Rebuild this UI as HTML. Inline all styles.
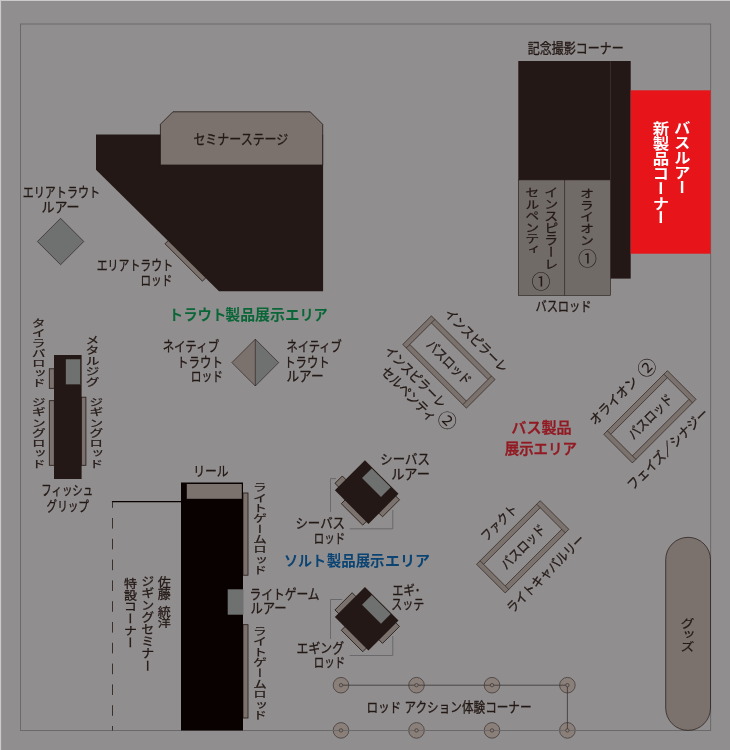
<!DOCTYPE html>
<html lang="ja"><head><meta charset="utf-8"><title>フロアマップ</title>
<style>
html,body{margin:0;padding:0;background:#908e8f;}
body{width:730px;height:750px;overflow:hidden;}
svg{display:block;font-family:"Liberation Sans","Noto Sans CJK JP",sans-serif;}
text{white-space:pre;}
svg{will-change:transform;}
text.v{writing-mode:vertical-rl;text-orientation:upright;}
</style></head><body>
<svg width="730" height="750" viewBox="0 0 730 750">
<rect x="0" y="0" width="730" height="750" fill="#908e8f"/>
<rect x="0" y="0" width="730" height="1" fill="#cbc9ca"/>
<rect x="0" y="0" width="1.1" height="750" fill="#cbc9ca"/>
<circle cx="341" cy="685.2" r="7.8" fill="#8b7f79" stroke="#3a3433" stroke-width="0.7"/>
<circle cx="416.5" cy="685.2" r="7.8" fill="#8b7f79" stroke="#3a3433" stroke-width="0.7"/>
<circle cx="492" cy="685.2" r="7.8" fill="#8b7f79" stroke="#3a3433" stroke-width="0.7"/>
<circle cx="567.4" cy="685.2" r="7.8" fill="#8b7f79" stroke="#3a3433" stroke-width="0.7"/>
<circle cx="341" cy="730.4" r="7.8" fill="#8b7f79" stroke="#3a3433" stroke-width="0.7"/>
<circle cx="416.5" cy="730.4" r="7.8" fill="#8b7f79" stroke="#3a3433" stroke-width="0.7"/>
<circle cx="492" cy="730.4" r="7.8" fill="#8b7f79" stroke="#3a3433" stroke-width="0.7"/>
<circle cx="567.4" cy="730.4" r="7.8" fill="#8b7f79" stroke="#3a3433" stroke-width="0.7"/>
<rect x="20.5" y="24" width="690.1" height="706.5" fill="none" stroke="#6b696a" stroke-width="1"/>
<polygon points="165,243.8 168.8,240 206.2,277.4 202.4,281.2" fill="#7b726d" stroke="#231815" stroke-width="0.8"/>
<polygon points="96,134.5 323.1,134.5 323.1,291.2 219,291.2 96,169.7" fill="#231815"/>
<polygon points="160.4,124.3 172.9,111.8 310.2,111.8 322.7,124.3 322.7,165 160.4,165" fill="#7b726d" stroke="#231815" stroke-width="0.8"/>
<text x="193.40" y="139.10" dy="0.36em" font-size="13.5" fill="#231815" stroke="#231815" stroke-width="0.3" font-weight="400" textLength="94.90" lengthAdjust="spacingAndGlyphs">セミナーステージ</text>
<polygon points="37.400000000000006,241.5 60.6,218.3 83.8,241.5 60.6,264.7" fill="#6f7170" stroke="#231815" stroke-width="0.6"/>
<text x="22.77" y="192.20" dy="0.36em" font-size="13.5" fill="#231815" stroke="#231815" stroke-width="0.3" font-weight="400" textLength="77.25" lengthAdjust="spacingAndGlyphs">エリアトラウト</text>
<text x="41.40" y="207.00" dy="0.36em" font-size="13.5" fill="#231815" stroke="#231815" stroke-width="0.3" font-weight="400" textLength="38.20" lengthAdjust="spacingAndGlyphs">ルアー</text>
<text x="96.69" y="265.60" dy="0.36em" font-size="13.5" fill="#231815" stroke="#231815" stroke-width="0.3" font-weight="400" textLength="76.45" lengthAdjust="spacingAndGlyphs">エリアトラウト</text>
<text x="140.57" y="280.00" dy="0.36em" font-size="13.5" fill="#231815" stroke="#231815" stroke-width="0.3" font-weight="400" textLength="31.60" lengthAdjust="spacingAndGlyphs">ロッド</text>
<polygon points="231.9,362.6 255.3,339.20000000000005 255.3,386.0" fill="#7b726d"/>
<polygon points="278.7,362.6 255.3,339.20000000000005 255.3,386.0" fill="#6f7170"/>
<polygon points="231.9,362.6 255.3,339.20000000000005 278.7,362.6 255.3,386.0" fill="none" stroke="#231815" stroke-width="0.6"/>
<line x1="255.3" y1="339.20000000000005" x2="255.3" y2="386.0" stroke="#231815" stroke-width="0.6"/>
<text y="314.50" dy="0.36em" font-size="14.7" fill="#0a6637" font-weight="700"><tspan x="168.83" textLength="57.49" lengthAdjust="spacingAndGlyphs">トラウト</tspan><tspan x="225.28" textLength="59.56" lengthAdjust="spacingAndGlyphs">製品展示</tspan><tspan x="285.26" textLength="42.50" lengthAdjust="spacingAndGlyphs">エリア</tspan></text>
<text x="162.65" y="346.20" dy="0.36em" font-size="13.5" fill="#231815" stroke="#231815" stroke-width="0.3" font-weight="400" textLength="56.46" lengthAdjust="spacingAndGlyphs">ネイティブ</text>
<text x="177.12" y="361.80" dy="0.36em" font-size="13.5" fill="#231815" stroke="#231815" stroke-width="0.3" font-weight="400" textLength="45.78" lengthAdjust="spacingAndGlyphs">トラウト</text>
<text x="190.75" y="376.30" dy="0.36em" font-size="13.5" fill="#231815" stroke="#231815" stroke-width="0.3" font-weight="400" textLength="32.09" lengthAdjust="spacingAndGlyphs">ロッド</text>
<text x="286.39" y="346.20" dy="0.36em" font-size="13.5" fill="#231815" stroke="#231815" stroke-width="0.3" font-weight="400" textLength="55.42" lengthAdjust="spacingAndGlyphs">ネイティブ</text>
<text x="284.16" y="361.80" dy="0.36em" font-size="13.5" fill="#231815" stroke="#231815" stroke-width="0.3" font-weight="400" textLength="45.56" lengthAdjust="spacingAndGlyphs">トラウト</text>
<text x="286.40" y="376.30" dy="0.36em" font-size="13.5" fill="#231815" stroke="#231815" stroke-width="0.3" font-weight="400" textLength="37.20" lengthAdjust="spacingAndGlyphs">ルアー</text>
<rect x="49.3" y="368.8" width="5" height="19.5" fill="#7b726d" stroke="#231815" stroke-width="0.8"/>
<rect x="49.3" y="400.7" width="5" height="64.6" fill="#7b726d" stroke="#231815" stroke-width="0.8"/>
<rect x="81.3" y="397.2" width="4.6" height="68.1" fill="#7b726d" stroke="#231815" stroke-width="0.8"/>
<rect x="54" y="355" width="27.6" height="124" fill="#231815"/>
<rect x="65.7" y="359" width="14.8" height="25.7" fill="#6f7170" stroke="#231815" stroke-width="0.5"/>
<text class="v" x="37.70" y="317.87" font-size="14" fill="#231815" stroke="#231815" stroke-width="0.3" font-weight="400" textLength="70.47" lengthAdjust="spacingAndGlyphs">タイラバロッド</text>
<text class="v" x="91.60" y="334.36" font-size="14" fill="#231815" stroke="#231815" stroke-width="0.3" font-weight="400" textLength="52.96" lengthAdjust="spacingAndGlyphs">メタルジグ</text>
<text class="v" x="37.70" y="397.21" font-size="14" fill="#231815" stroke="#231815" stroke-width="0.3" font-weight="400" textLength="71.61" lengthAdjust="spacingAndGlyphs">ジギングロッド</text>
<text class="v" x="95.30" y="397.21" font-size="14" fill="#231815" stroke="#231815" stroke-width="0.3" font-weight="400" textLength="71.61" lengthAdjust="spacingAndGlyphs">ジギングロッド</text>
<text x="41.37" y="490.40" dy="0.36em" font-size="13.5" fill="#231815" stroke="#231815" stroke-width="0.3" font-weight="400" textLength="51.77" lengthAdjust="spacingAndGlyphs">フィッシュ</text>
<text x="46.62" y="505.80" dy="0.36em" font-size="13.5" fill="#231815" stroke="#231815" stroke-width="0.3" font-weight="400" textLength="42.26" lengthAdjust="spacingAndGlyphs">グリップ</text>
<rect x="243" y="493" width="5" height="82.2" fill="#7b726d" stroke="#231815" stroke-width="0.8"/>
<rect x="243" y="624.7" width="5" height="93.3" fill="#7b726d" stroke="#231815" stroke-width="0.8"/>
<rect x="181" y="482.5" width="62" height="248" fill="#090000"/>
<rect x="186.8" y="484" width="55" height="14.8" fill="#7b726d"/>
<rect x="227.7" y="589.3" width="15.8" height="25.4" fill="#6f7170"/>
<line x1="181" y1="501.6" x2="111.9" y2="501.6" stroke="#090000" stroke-width="1.2"/>
<line x1="112.5" y1="501.6" x2="112.5" y2="730.5" stroke="#231815" stroke-width="0.8" stroke-dasharray="10.6 10.2" stroke-dashoffset="4.4"/>
<text x="193.28" y="471.00" dy="0.36em" font-size="13.5" fill="#231815" stroke="#231815" stroke-width="0.3" font-weight="400" textLength="35.34" lengthAdjust="spacingAndGlyphs">リール</text>
<text class="v" x="259.00" y="482.09" font-size="14" fill="#231815" stroke="#231815" stroke-width="0.3" font-weight="400" textLength="93.32" lengthAdjust="spacingAndGlyphs">ライトゲームロッド</text>
<text class="v" x="259.00" y="625.19" font-size="14" fill="#231815" stroke="#231815" stroke-width="0.3" font-weight="400" textLength="95.50" lengthAdjust="spacingAndGlyphs">ライトゲームロッド</text>
<text x="249.38" y="593.70" dy="0.36em" font-size="13.5" fill="#231815" stroke="#231815" stroke-width="0.3" font-weight="400" textLength="70.23" lengthAdjust="spacingAndGlyphs">ライトゲーム</text>
<text x="250.40" y="607.70" dy="0.36em" font-size="13.5" fill="#231815" stroke="#231815" stroke-width="0.3" font-weight="400" textLength="36.20" lengthAdjust="spacingAndGlyphs">ルアー</text>
<text class="v" x="163.30" y="575.81" font-size="13" fill="#231815" stroke="#231815" stroke-width="0.3" font-weight="400" textLength="24.39" lengthAdjust="spacingAndGlyphs">佐藤</text>
<text class="v" x="163.30" y="606.75" font-size="13" fill="#231815" stroke="#231815" stroke-width="0.3" font-weight="400" textLength="22.05" lengthAdjust="spacingAndGlyphs">統洋</text>
<text class="v" x="146.70" y="575.21" font-size="13" fill="#231815" stroke="#231815" stroke-width="0.3" font-weight="400" textLength="96.84" lengthAdjust="spacingAndGlyphs">ジギングセミナー</text>
<text class="v" x="129.50" y="577.17" font-size="13" fill="#231815" stroke="#231815" stroke-width="0.3" font-weight="400" textLength="71.40" lengthAdjust="spacingAndGlyphs">特設コーナー</text>
<g transform="translate(366.7,492.1) rotate(45)">
<rect x="-28.65" y="5.85" width="6" height="10.4" fill="#7b726d" stroke="#231815" stroke-width="0.8"/>
<rect x="-9.75" y="20.25" width="30.3" height="5.9" fill="#7b726d" stroke="#231815" stroke-width="0.8"/>
<rect x="22.75" y="-17.75" width="5.9" height="24" fill="#7b726d" stroke="#231815" stroke-width="0.8"/>
<rect x="-23.75" y="-21.25" width="47.5" height="42.5" fill="#231815"/>
<rect x="-13.2" y="-20.3" width="26.8" height="13.7" fill="#6f7170"/>
</g>
<g transform="translate(366.7,618.7) rotate(45)">
<rect x="-28.65" y="-8.05" width="6" height="24.3" fill="#7b726d" stroke="#231815" stroke-width="0.8"/>
<rect x="-9.75" y="20.25" width="30.3" height="5.9" fill="#7b726d" stroke="#231815" stroke-width="0.8"/>
<rect x="22.75" y="-17.75" width="5.9" height="24" fill="#7b726d" stroke="#231815" stroke-width="0.8"/>
<rect x="-23.75" y="-21.25" width="47.5" height="42.5" fill="#231815"/>
<rect x="-13.2" y="-20.3" width="26.8" height="13.7" fill="#6f7170"/>
</g>
<polyline points="336,478.6 330.5,478.6 330.5,512" fill="none" stroke="#676566" stroke-width="0.9"/>
<polyline points="349.7,528.8 392.8,528.8 392.8,510" fill="none" stroke="#676566" stroke-width="0.9"/>
<polyline points="342.2,599.5 330.5,599.5 330.5,639" fill="none" stroke="#676566" stroke-width="0.9"/>
<polyline points="349.7,655.5 392.8,655.5 392.8,636" fill="none" stroke="#676566" stroke-width="0.9"/>
<text x="380.36" y="459.60" dy="0.36em" font-size="13.5" fill="#231815" stroke="#231815" stroke-width="0.3" font-weight="400" textLength="49.54" lengthAdjust="spacingAndGlyphs">シーバス</text>
<text x="391.16" y="474.40" dy="0.36em" font-size="13.5" fill="#231815" stroke="#231815" stroke-width="0.3" font-weight="400" textLength="38.80" lengthAdjust="spacingAndGlyphs">ルアー</text>
<text x="295.38" y="523.20" dy="0.36em" font-size="13.5" fill="#231815" stroke="#231815" stroke-width="0.3" font-weight="400" textLength="49.65" lengthAdjust="spacingAndGlyphs">シーバス</text>
<text x="313.86" y="537.70" dy="0.36em" font-size="13.5" fill="#231815" stroke="#231815" stroke-width="0.3" font-weight="400" textLength="31.24" lengthAdjust="spacingAndGlyphs">ロッド</text>
<text y="560.70" dy="0.36em" font-size="14.7" fill="#0b4473" font-weight="700"><tspan x="284.04" textLength="42.04" lengthAdjust="spacingAndGlyphs">ソルト</tspan><tspan x="326.69" textLength="57.92" lengthAdjust="spacingAndGlyphs">製品展示</tspan><tspan x="385.14" textLength="44.92" lengthAdjust="spacingAndGlyphs">エリア</tspan></text>
<text x="392.19" y="589.70" dy="0.36em" font-size="13.5" fill="#231815" stroke="#231815" stroke-width="0.3" font-weight="400" textLength="28.15" lengthAdjust="spacingAndGlyphs">エギ･</text>
<text x="391.18" y="604.50" dy="0.36em" font-size="13.5" fill="#231815" stroke="#231815" stroke-width="0.3" font-weight="400" textLength="32.94" lengthAdjust="spacingAndGlyphs">スッテ</text>
<text x="296.58" y="647.70" dy="0.36em" font-size="13.5" fill="#231815" stroke="#231815" stroke-width="0.3" font-weight="400" textLength="47.44" lengthAdjust="spacingAndGlyphs">エギング</text>
<text x="313.86" y="662.50" dy="0.36em" font-size="13.5" fill="#231815" stroke="#231815" stroke-width="0.3" font-weight="400" textLength="31.24" lengthAdjust="spacingAndGlyphs">ロッド</text>
<polyline points="341,685.2 567.4,685.2 567.4,730.4" fill="none" stroke="#3a3433" stroke-width="0.8"/>
<circle cx="341" cy="685.2" r="1.7" fill="#8b7f79" stroke="#3a3433" stroke-width="0.7"/>
<circle cx="341" cy="730.4" r="1.7" fill="#8b7f79" stroke="#3a3433" stroke-width="0.7"/>
<circle cx="416.5" cy="685.2" r="1.7" fill="#8b7f79" stroke="#3a3433" stroke-width="0.7"/>
<circle cx="416.5" cy="730.4" r="1.7" fill="#8b7f79" stroke="#3a3433" stroke-width="0.7"/>
<circle cx="492" cy="685.2" r="1.7" fill="#8b7f79" stroke="#3a3433" stroke-width="0.7"/>
<circle cx="492" cy="730.4" r="1.7" fill="#8b7f79" stroke="#3a3433" stroke-width="0.7"/>
<circle cx="567.4" cy="685.2" r="1.7" fill="#8b7f79" stroke="#3a3433" stroke-width="0.7"/>
<circle cx="567.4" cy="730.4" r="1.7" fill="#8b7f79" stroke="#3a3433" stroke-width="0.7"/>
<text x="366.39" y="707.00" dy="0.36em" font-size="13.5" fill="#231815" stroke="#231815" stroke-width="0.3" font-weight="400" textLength="165.21" lengthAdjust="spacingAndGlyphs">ロッド アクション体験コーナー</text>
<rect x="518.3" y="61" width="92.3" height="119.5" fill="#231815"/>
<rect x="610.4" y="61" width="20.3" height="217.6" fill="#231815"/>
<line x1="610.5" y1="61" x2="610.5" y2="180" stroke="#3a302d" stroke-width="0.5"/>
<rect x="518.3" y="179.9" width="92.1" height="115.4" fill="#716b68" stroke="#231815" stroke-width="0.6"/>
<line x1="564.6" y1="179.9" x2="564.6" y2="295.3" stroke="#231815" stroke-width="0.6"/>
<rect x="630.7" y="90.3" width="79.9" height="163.4" fill="#e7141a"/>
<text x="527.70" y="47.70" dy="0.36em" font-size="13.5" fill="#231815" stroke="#231815" stroke-width="0.3" font-weight="400" textLength="96.00" lengthAdjust="spacingAndGlyphs">記念撮影コーナー</text>
<text class="v" x="681.20" y="119.34" font-size="16.5" fill="#fff" stroke="#fff" stroke-width="0" font-weight="700" textLength="75.49" lengthAdjust="spacingAndGlyphs">バスルアー</text>
<text class="v" x="659.90" y="121.40" font-size="16.5" fill="#fff" stroke="#fff" stroke-width="0" font-weight="700" textLength="103.82" lengthAdjust="spacingAndGlyphs">新製品コーナー</text>
<text class="v" x="550.30" y="186.37" font-size="14" fill="#231815" stroke="#231815" stroke-width="0.3" font-weight="400" textLength="84.25" lengthAdjust="spacingAndGlyphs">インスピラーレ</text>
<text class="v" x="531.30" y="187.41" font-size="14" fill="#231815" stroke="#231815" stroke-width="0.3" font-weight="400" textLength="68.23" lengthAdjust="spacingAndGlyphs">セルペンティ</text>
<text class="v" x="586.10" y="187.32" font-size="14" fill="#231815" stroke="#231815" stroke-width="0.3" font-weight="400" textLength="59.28" lengthAdjust="spacingAndGlyphs">オライオン</text>
<g transform="translate(541.00,282.00) rotate(0)"><text x="0" y="0" dy="0.37em" text-anchor="middle" font-size="19" fill="#231815">①</text></g>
<g transform="translate(587.50,258.70) rotate(0)"><text x="0" y="0" dy="0.37em" text-anchor="middle" font-size="19" fill="#231815">①</text></g>
<text x="535.39" y="305.80" dy="0.36em" font-size="13.5" fill="#231815" stroke="#231815" stroke-width="0.3" font-weight="400" textLength="56.24" lengthAdjust="spacingAndGlyphs">バスロッド</text>
<rect x="665.7" y="537.3" width="44.8" height="193.1" rx="22.4" fill="#7b726d" stroke="#231815" stroke-width="0.7"/>
<text class="v" x="686.40" y="618.10" font-size="14" fill="#231815" stroke="#231815" stroke-width="0.3" font-weight="400" textLength="33.81" lengthAdjust="spacingAndGlyphs">グッズ</text>
<g transform="translate(448.9,362) rotate(45)">
<rect x="-42.5" y="-17.75" width="85" height="35.5" fill="none" stroke="#7b726d" stroke-width="5"/>
<rect x="-45.0" y="-20.25" width="90" height="40.5" fill="none" stroke="#231815" stroke-width="0.6"/>
<rect x="-40.0" y="-15.25" width="80" height="30.5" fill="none" stroke="#231815" stroke-width="0.6"/>
<path d="M-40.0,-20.25V-15.25M-40.0,20.25V15.25M40.0,-20.25V-15.25M40.0,20.25V15.25" stroke="#231815" stroke-width="0.6" fill="none"/>
</g>
<g transform="translate(448.90,362.00) rotate(45)"><text x="-28.09" y="0.30" dy="0.36em" font-size="13.5" fill="#231815" stroke="#231815" stroke-width="0.3" font-weight="400" textLength="56.76" lengthAdjust="spacingAndGlyphs">バスロッド</text></g>
<g transform="translate(448.90,362.00) rotate(45)"><text x="-37.34" y="-34.60" dy="0.36em" font-size="13.5" fill="#231815" stroke="#231815" stroke-width="0.3" font-weight="400" textLength="83.19" lengthAdjust="spacingAndGlyphs">インスピラーレ</text></g>
<g transform="translate(448.90,362.00) rotate(45)"><text x="-53.20" y="34.00" dy="0.36em" font-size="13.5" fill="#231815" stroke="#231815" stroke-width="0.3" font-weight="400" textLength="80.50" lengthAdjust="spacingAndGlyphs">インスピラーレ</text></g>
<g transform="translate(448.90,362.00) rotate(45)"><text x="-41.28" y="51.10" dy="0.36em" font-size="13.5" fill="#231815" stroke="#231815" stroke-width="0.3" font-weight="400" textLength="71.32" lengthAdjust="spacingAndGlyphs">セルペンティ</text></g>
<g transform="translate(447.20,420.40) rotate(45)"><text x="0" y="0" dy="0.37em" text-anchor="middle" font-size="19" fill="#231815">②</text></g>
<g transform="translate(649.9,416.8) rotate(-45)">
<rect x="-42.5" y="-17.75" width="85" height="35.5" fill="none" stroke="#7b726d" stroke-width="5"/>
<rect x="-45.0" y="-20.25" width="90" height="40.5" fill="none" stroke="#231815" stroke-width="0.6"/>
<rect x="-40.0" y="-15.25" width="80" height="30.5" fill="none" stroke="#231815" stroke-width="0.6"/>
<path d="M-40.0,-20.25V-15.25M-40.0,20.25V15.25M40.0,-20.25V-15.25M40.0,20.25V15.25" stroke="#231815" stroke-width="0.6" fill="none"/>
</g>
<g transform="translate(649.90,416.80) rotate(-45)"><text x="-27.94" y="0.30" dy="0.36em" font-size="13.5" fill="#231815" stroke="#231815" stroke-width="0.3" font-weight="400" textLength="56.76" lengthAdjust="spacingAndGlyphs">バスロッド</text></g>
<g transform="translate(649.90,416.80) rotate(-45)"><text x="-45.10" y="-37.00" dy="0.36em" font-size="13.5" fill="#231815" stroke="#231815" stroke-width="0.3" font-weight="400" textLength="61.96" lengthAdjust="spacingAndGlyphs">オライオン</text></g>
<g transform="translate(647.10,367.70) rotate(-45)"><text x="0" y="0" dy="0.37em" text-anchor="middle" font-size="19" fill="#231815">②</text></g>
<g transform="translate(649.90,416.80) rotate(-45)"><text x="-64.34" y="35.40" dy="0.36em" font-size="13.5" fill="#231815" stroke="#231815" stroke-width="0.3" font-weight="400" textLength="108.28" lengthAdjust="spacingAndGlyphs">フェイズ／シナジー</text></g>
<g transform="translate(522.7,546.8) rotate(-45)">
<rect x="-42.5" y="-17.75" width="85" height="35.5" fill="none" stroke="#7b726d" stroke-width="5"/>
<rect x="-45.0" y="-20.25" width="90" height="40.5" fill="none" stroke="#231815" stroke-width="0.6"/>
<rect x="-40.0" y="-15.25" width="80" height="30.5" fill="none" stroke="#231815" stroke-width="0.6"/>
<path d="M-40.0,-20.25V-15.25M-40.0,20.25V15.25M40.0,-20.25V-15.25M40.0,20.25V15.25" stroke="#231815" stroke-width="0.6" fill="none"/>
</g>
<g transform="translate(522.70,546.80) rotate(-45)"><text x="-28.10" y="0.30" dy="0.36em" font-size="13.5" fill="#231815" stroke="#231815" stroke-width="0.3" font-weight="400" textLength="56.77" lengthAdjust="spacingAndGlyphs">バスロッド</text></g>
<g transform="translate(522.70,546.80) rotate(-45)"><text x="-22.20" y="-33.80" dy="0.36em" font-size="13.5" fill="#231815" stroke="#231815" stroke-width="0.3" font-weight="400" textLength="44.97" lengthAdjust="spacingAndGlyphs">ファクト</text></g>
<g transform="translate(522.70,546.80) rotate(-45)"><text x="-54.54" y="35.20" dy="0.36em" font-size="13.5" fill="#231815" stroke="#231815" stroke-width="0.3" font-weight="400" textLength="103.62" lengthAdjust="spacingAndGlyphs">ライトキャバルリー</text></g>
<text x="511.39" y="428.00" dy="0.36em" font-size="14.7" fill="#931922" stroke="#931922" stroke-width="0.4" font-weight="500" textLength="60.33" lengthAdjust="spacingAndGlyphs">バス製品</text>
<text x="504.70" y="448.60" dy="0.36em" font-size="14.7" fill="#931922" stroke="#931922" stroke-width="0.4" font-weight="500" textLength="72.22" lengthAdjust="spacingAndGlyphs">展示エリア</text>
</svg>
</body></html>
